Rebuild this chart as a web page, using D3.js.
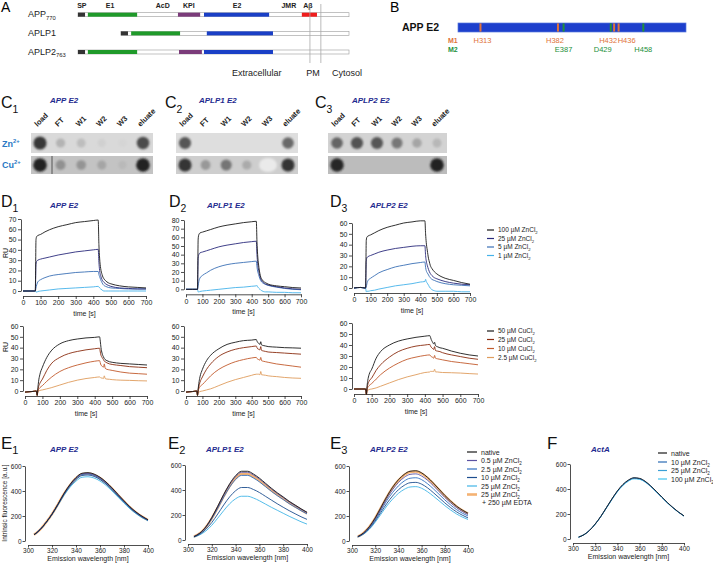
<!DOCTYPE html>
<html><head><meta charset="utf-8">
<script src="https://cdn.jsdelivr.net/npm/d3@7"></script>
<style>
body{margin:0;background:#fff;}
svg{font-family:"Liberation Sans",Arial,sans-serif;}
</style></head><body>
<svg id="c" width="713" height="564"></svg>
<script>
// ---------------- DATA ----------------
// Panel A
const aProteins = ["APP", "APLP1", "APLP2"];
const aSubs = ["770", "", "763"];
const aStart = [0, 122, 0];
const aEnd = 770;
const segAPP = [["SP",0,20],["E1",28,168],["KPI",284,347],["E2",358,543],["Ab",636,679]];
const segAPLP1 = [["SP",122,142],["E1",151,290],["E2",366,554]];
const segAPLP2 = [["SP",0,20],["E1",28,168],["KPI",287,352],["E2",358,554]];
const aDomainNames = ["SP","E1","AcD","KPI","E2","JMR","Aβ"];
const aDomainPos = [11, 91, 241, 315, 452, 599, 653];
const aMembrane = [659, 690];
const aRegionNames = ["Extracellular","PM","Cytosol"];
const aRegionPos = [508, 668, 722];

// Panel B
const bRange = [293, 496];
const bM1 = [313, 382, 432, 436];
const bM2 = [387, 429, 458];
const bM1Labels = ["H313","H382","H432","H436"];
const bM2Labels = ["E387","D429","H458"];

// Panel C (dot blot intensities, 0..1)
const cLanes = ["load","FT","W1","W2","W3","eluate"];
const cTitles = ["APP E2","APLP1 E2","APLP2 E2"];
const cZnAPP   = [0.85,0.2,0.15,0.05,0.02,0.75];
const cCuAPP   = [0.95,0.3,0.28,0.18,0.06,0.95];
const cZnAPLP1 = [0.7,0,0,0,0,0.6];
const cCuAPLP1 = [0.85,0.3,0.5,0.2,0,0.85];
const cZnAPLP2 = [0.6,0.7,0.68,0.5,0.25,0.15];
const cCuAPLP2 = [0.92,0,0,0,0,0.95];

// Panel D (SPR, RU over time)
const T = [0,40,66,70,74,78,85,100,125,150,200,250,300,350,400,428,432,436,442,450,455,460,470,485,500,550,600,650,700];
const dTimeTicks = [0,100,200,300,400,500,600,700];
const d1zn100 = [0,0,0,0,50,53,54,55,57.5,59.5,62.5,64.5,66.5,67.5,68.5,69,45,32,22,16,13.5,12,10,8,7,5,4,3.5,3];
const d1zn25  = [0,0,0,0,26,29,30,31,32,33,35,36.5,38,39,40,40.5,28,20,15,11,9.5,8.5,7,5.5,4.5,3,2.5,2,2];
const d1zn5   = [0,0,0,0,3,6,9,11,13,14.5,16,17,18,18.5,19,19,16,14,11,8,6.5,5.5,4.5,3.5,3,2.5,2,2,2];
const d1zn1   = [0,0,0,0,-1,-1,-0.5,0,0.5,1,2,2.5,3,3.5,4,4.5,4,3,2,1,0.3,0,0,0,0,0,0,0,0];
const d2zn100 = [0,0,0,0,58,63,65,66,67.5,69,72,74,75.5,77,78,78.5,55,40,28,18,14,12,9.5,7.5,6,4,3,2,1.5];
const d2zn25  = [0,0,0,0,36,40,42,43,44.5,46,49,51,52.5,54,55,55.5,40,30,22,15,12,10,8,6,5,3,1.5,0.5,0];
const d2zn5   = [0,0,0,0,4,9,13,16,19,22,26,28.5,30,31,32,32.5,26,21,17,12,10,8.5,7,5.5,4.5,2.5,1,0,-0.5];
const d2zn1   = [0,0,0,0,-3,-3,-2.5,-2,-1.5,-1,0,1,2,2.5,3.5,4,4.5,3,1.5,0,-1,-1.5,-2.5,-3,-3,-3.5,-3.5,-4,-4];
const d3zn100 = [0,0.5,0,0,44,47,48,49,51,53,56,58,60,61,62,62,50,42,35,27,24,21,18,15,13,9,7,5,3.5];
const d3zn25  = [0,0.5,0,0,25,28,29,30,31.5,33,35,36.5,37.5,38.5,39,39,30,25,21,17,15,13.5,11.5,9.5,8.5,6,4.5,3.5,3];
const d3zn5   = [0,0.5,0,0,1,4,7,9,11.5,14,17,19.5,21,22.5,23.5,24,19,16,14,12,10.5,9.5,8,7,6,4,3,2.5,2];
const d3zn1   = [0,0.5,0,0,-3.5,-3,-3,-2.5,-2,-1,0.5,2,3,4,5.5,6,8,6,4.5,2.5,1,0,-1.5,-2.5,-3,-3,-3,-3.5,-3.5];
const d1cu50 = [-1,-0.5,0,-4,3,9,15,22,31,37,43.5,46.5,48,49,49.5,50,46,40,35,31.5,30,29,28,27,26.5,25.5,25,24.5,24];
const d1cu25 = [-1,-0.5,0,-4,1,4,7,11,19,25,31,34.5,36.5,38,39,39.5,36,33,31,29,27.5,27,26,25,24.5,23.5,22.5,22,21.5];
const d1cu10 = [-1,-0.5,0,-4,0,1.5,3,5,9,12.5,18,21.5,24,26,27.5,28,26,24,23,22,25,21,20,19.5,19,17.5,16.5,16,15.5];
const d1cu2  = [-1,-0.5,0,-4,-0.5,0,0.5,1,2,3,5.5,8,10,11.5,12.5,13,12.5,12,12,11.5,14,11.5,11,10.8,10.5,10,9.8,9.5,9.3];
const d2cu50 = [-1,-0.5,0,-4,2,7,13,20,28,33,39,43,45,46.5,47,47.5,46,45,44,43,45.5,42.5,42,41.5,41,40.5,40,39.8,39.5];
const d2cu25 = [-1,-0.5,0,-4,1,4,8,13,20,25,32,36,38.5,40,41,41.5,40,39,38.5,38,41,37.5,37,36.5,36,35.5,35,34.5,34];
const d2cu10 = [-1,-0.5,0,-4,0,2,4,6,10,14,20,24,27,29,30.5,31,30,29.5,29,28.5,31,28,27.5,27,26.5,25,24,23,22];
const d2cu2  = [-1,-0.5,0,-4,-1,-1,-0.5,0,1,2,5,8,10.5,12.5,14.5,15.5,15.5,15.5,15.5,15,18,15,14.8,14.5,14,13.3,12.5,12,11.7];
const d3cu50 = [0,0,0,-5,3,8,13,18,28,34,40,43.5,45.5,47,48,48.5,47,45,43,41,42.5,39.5,38.5,37.5,37,34.5,32.5,31,30];
const d3cu25 = [0,0,0,-5,1,4,7,10,17,22,29,34,37,39,40,40.5,39,38,37,36,38.5,35,34.5,34,33,31,29.5,28,27];
const d3cu10 = [0,0,0,-5,0,1.5,3,5,9,13,19,23.5,27,29,30.5,31,30,29.5,29,28,30.5,28,27.5,27,26.5,25,24,23,22];
const d3cu2  = [0,0,0,-5,-1,-1,-0.5,0,1,2.5,5.5,8.5,11,13,15,15.5,16,16,16,16,18,15.5,15.5,15.2,15,14.8,14.5,14,13.6];
const dZnLegend = ["100 µM ZnCl","25 µM ZnCl","5 µM ZnCl","1 µM ZnCl"];
const dCuLegend = ["50 µM CuCl","25 µM CuCl","10 µM CuCl","2.5 µM CuCl"];

// Panel E / F (fluorescence)
const eWl = [305,310,315,320,325,330,335,340,345,350,355,360,365,370,375,380,385,390,395,400];
const eWlTicks = [300,320,340,360,380,400];
const eFluTicks = [0,200,400,600];
const e1Native = [50,90,148,215,295,380,452,508,542,547,536,510,472,425,373,322,273,232,198,170];
const e1Zn05   = [50,90,148,215,294,378,449,504,537,541,530,505,467,421,369,319,270,230,196,168];
const e1Zn2_5  = [50,90,148,214,293,376,446,499,532,536,525,500,463,417,366,316,268,228,195,167];
const e1Zn10   = [50,90,147,213,291,372,440,492,524,528,517,492,456,411,360,311,264,224,192,165];
const e1Zn25   = [50,89,146,211,287,365,430,479,510,514,504,480,445,400,351,303,257,219,187,161];
const e1Edta   = [50,90,148,215,294,377,447,502,535,539,528,503,465,419,367,317,269,229,195,168];
const e2Native = [27,55,105,180,270,365,450,515,550,550,528,495,455,415,378,345,310,280,250,222];
const e2Zn05   = [27,55,104,178,266,360,443,507,542,542,520,488,448,409,372,340,305,276,246,219];
const e2Zn2_5  = [27,53,100,170,254,343,423,484,517,517,496,465,428,390,355,324,291,263,235,209];
const e2Zn10   = [25,47,85,140,208,280,345,394,420,420,404,380,350,320,290,262,235,210,186,165];
const e2Zn25   = [23,42,72,118,175,235,290,330,350,350,336,314,288,262,238,214,190,168,146,127];
const e2Edta   = [27,54,102,173,259,350,432,494,528,528,507,475,437,398,363,331,298,269,240,213];
const e3Native = [35,65,115,185,270,355,430,490,533,558,562,545,510,465,415,365,320,280,248,222];
const e3Zn05   = [35,63,111,178,259,340,411,468,509,533,537,520,487,444,396,349,306,268,237,212];
const e3Zn2_5  = [34,61,106,169,246,323,388,441,480,502,506,491,459,419,374,329,288,252,223,200];
const e3Zn10   = [33,58,100,160,230,300,360,410,445,466,469,455,426,388,347,305,267,234,207,185];
const e3Zn25   = [32,55,94,150,215,280,335,381,413,432,435,422,395,360,322,283,248,217,192,172];
const e3Edta   = [35,64,114,183,267,351,426,485,528,552,556,540,505,460,411,361,317,277,246,220];
const fNative  = [15,35,70,120,180,250,320,385,437,472,490,485,462,425,382,336,292,252,216,185];
const fZn10    = [15,35,70,120,180,249,319,383,435,470,488,483,460,423,380,335,291,251,215,184];
const fZn25    = [15,35,70,119,179,248,317,381,432,467,485,480,458,421,379,334,290,250,215,184];
const fZn100   = [15,35,69,118,178,246,314,378,428,463,481,477,455,419,377,332,289,249,214,183];
const eLegend = ["native","0.5 µM ZnCl","2.5 µM ZnCl","10 µM ZnCl","25 µM ZnCl","25 µM ZnCl"];
const fLegend = ["native","10 µM ZnCl","25 µM ZnCl","100 µM ZnCl"];

// ---------------- DRAWING ----------------
const FONT = '"Liberation Sans", Arial, sans-serif';
const TITLE_COL = "#1f2b8f";
const svg = d3.select("#c");
svg.append("defs").html('<filter id="blur" x="-50%" y="-50%" width="200%" height="200%"><feGaussianBlur stdDeviation="0.8"/></filter>');

function rich(g, x, y, parts, size, attrs = {}) {
  const t = g.append("text").attr("x", x).attr("y", y).attr("font-size", size);
  for (const k in attrs) t.attr(k, attrs[k]);
  let shift = 0;
  parts.forEach(p => {
    if (typeof p === "string") {
      t.append("tspan").attr("dy", -shift).text(p); shift = 0;
    } else {
      const d = p.sub ? size * 0.3 : -size * 0.4;
      t.append("tspan").attr("dy", d - shift).attr("font-size", size * 0.65).text(p.t);
      shift = d;
    }
  });
  return t;
}
function panelLetter(x, y, L, sub, size) {
  const parts = sub ? [L, {t: sub, sub: true}] : [L];
  rich(svg, x, y, parts, size, {fill: "#111"});
}
function title(x, y, txt) {
  svg.append("text").attr("x", x).attr("y", y).attr("font-size", 8).attr("font-weight", "bold")
    .attr("font-style", "italic").attr("fill", TITLE_COL).text(txt);
}
function axes(g, x, y, xt, yt, yOff, xOff, fs, tl, tp) {
  const ax = x(xt[0]) - yOff;
  const ay = y(yt[0]) + xOff;
  const ya = g.append("g").attr("transform", `translate(${ax},0)`)
    .call(d3.axisLeft(y).tickValues(yt).tickSize(tl).tickSizeOuter(0).tickPadding(tp));
  const xa = g.append("g").attr("transform", `translate(0,${ay})`)
    .call(d3.axisBottom(x).tickValues(xt).tickSize(tl).tickSizeOuter(0).tickPadding(tp));
  [ya, xa].forEach(a => {
    a.attr("font-size", fs).attr("font-family", FONT);
    a.selectAll("path,line").attr("stroke", "#222").attr("stroke-width", 0.8);
    a.selectAll("text").attr("fill", "#222");
  });
  return ay;
}

// ---- Panel A ----
const gA = svg.append("g");
svg.append("text").attr("x", 1).attr("y", 12).attr("font-size", 14).text("A");
const xA = d3.scaleLinear().domain([0, aEnd]).range([78, 349]);
const yA = d3.scalePoint().domain(aProteins).range([12.7, 50]);
const segColors = {SP: "#333333", E1: "#1f9a2a", KPI: "#7b3b7a", E2: "#1a3fc6", Ab: "#f01c1c"};
const aSegs = [segAPP, segAPLP1, segAPLP2];
aProteins.forEach((p, i) => {
  const y = yA(p);
  gA.append("rect").attr("x", xA(aStart[i])).attr("y", y).attr("width", xA(aEnd) - xA(aStart[i])).attr("height", 4)
    .attr("fill", "#fff").attr("stroke", "#9a9a9a").attr("stroke-width", 0.6);
  aSegs[i].forEach(s => {
    gA.append("rect").attr("x", xA(s[1])).attr("y", y).attr("width", xA(s[2]) - xA(s[1])).attr("height", 4)
      .attr("fill", segColors[s[0]]);
  });
  rich(gA, 28, y + 4.5, aSubs[i] ? [p, {t: aSubs[i], sub: true}] : [p], 9, {fill: "#222"});
});
aDomainNames.forEach((n, i) => {
  gA.append("text").attr("x", xA(aDomainPos[i])).attr("y", 8).attr("font-size", 7).attr("font-weight", "bold")
    .attr("text-anchor", "middle").attr("fill", "#222").text(n);
});
aMembrane.forEach(m => {
  gA.append("line").attr("x1", xA(m)).attr("x2", xA(m)).attr("y1", 4).attr("y2", 63)
    .attr("stroke", "#aaa").attr("stroke-width", 0.8);
});
aRegionNames.forEach((n, i) => {
  gA.append("text").attr("x", xA(aRegionPos[i])).attr("y", 75.5).attr("font-size", 9)
    .attr("text-anchor", i === 2 ? "start" : "middle").attr("fill", "#222").text(n);
});

// ---- Panel B ----
svg.append("text").attr("x", 390).attr("y", 12).attr("font-size", 14).text("B");
const gB = svg.append("g");
const xB = d3.scaleLinear().domain(bRange).range([458, 686]);
gB.append("text").attr("x", 402).attr("y", 31).attr("font-size", 10.5).attr("font-weight", "bold").attr("fill", "#111").text("APP E2");
gB.append("rect").attr("x", xB(bRange[0])).attr("y", 23).attr("width", xB(bRange[1]) - xB(bRange[0])).attr("height", 9)
  .attr("fill", "#1d3fcc").attr("stroke", "#5a78dc").attr("stroke-width", 0.7);
const M1C = "#e0733a", M2C = "#23903a";
bM1.forEach(r => gB.append("rect").attr("x", xB(r) - 1).attr("y", 23.4).attr("width", 2).attr("height", 8.2).attr("fill", M1C));
bM2.forEach(r => gB.append("rect").attr("x", xB(r) - 1).attr("y", 23.4).attr("width", 2).attr("height", 8.2).attr("fill", M2C));
const bShift = {H313: 2, H382: -3, H432: -6, H436: 8, E387: 0, D429: -8, H458: 0};
gB.append("text").attr("x", 448).attr("y", 43).attr("font-size", 7).attr("font-weight", "bold").attr("fill", M1C).text("M1");
gB.append("text").attr("x", 448).attr("y", 52).attr("font-size", 7).attr("font-weight", "bold").attr("fill", M2C).text("M2");
bM1.forEach((r, i) => gB.append("text").attr("x", xB(r) + bShift[bM1Labels[i]]).attr("y", 43).attr("font-size", 7.5)
  .attr("text-anchor", "middle").attr("fill", M1C).text(bM1Labels[i]));
bM2.forEach((r, i) => gB.append("text").attr("x", xB(r) + bShift[bM2Labels[i]]).attr("y", 52).attr("font-size", 7.5)
  .attr("text-anchor", "middle").attr("fill", M2C).text(bM2Labels[i]));

// ---- Panel C ----
const cLetterX = [1, 165, 315];
const cTitleX = [50, 199, 352];
const boxes = [{x: 31, w: 122}, {x: 176, w: 122}, {x: 328, w: 119}];
const rowsY = [{y: 133, h: 20}, {y: 156, h: 18}];
const blotBg = [["#d9d9d9", "#c3c3c3"], ["#dedede", "#cecece"], ["#d3d3d3", "#bcbcbc"]];
const blotData = [[cZnAPP, cCuAPP], [cZnAPLP1, cCuAPLP1], [cZnAPLP2, cCuAPLP2]];
const gC = svg.append("g");
boxes.forEach((b, bi) => {
  panelLetter(cLetterX[bi], 108, "C", String(bi + 1), 16);
  title(cTitleX[bi], 103, cTitles[bi]);
  const xl = d3.scalePoint().domain(cLanes).range([b.x + 9, b.x + b.w - 10]);
  cLanes.forEach(l => {
    gC.append("text").attr("transform", `translate(${xl(l) - 2.5},127) rotate(-45)`)
      .attr("font-size", 7.5).attr("font-weight", "bold").attr("fill", "#222").text(l);
  });
  rowsY.forEach((r, ri) => {
    gC.append("rect").attr("x", b.x).attr("y", r.y).attr("width", b.w).attr("height", r.h).attr("fill", blotBg[bi][ri]);
    const vals = blotData[bi][ri];
    const col = d3.interpolateRgb(blotBg[bi][ri], "#1b1b1b");
    cLanes.forEach((l, li) => {
      const v = vals[li];
      if (v <= 0) return;
      gC.append("circle").attr("cx", xl(l)).attr("cy", r.y + r.h / 2).attr("r", 4 + 3 * v)
        .attr("fill", col(v)).attr("filter", "url(#blur)");
    });
  });
});
gC.append("line").attr("x1", 52).attr("x2", 52).attr("y1", 156).attr("y2", 174).attr("stroke", "#555").attr("stroke-width", 1);
gC.append("ellipse").attr("cx", 268).attr("cy", 165).attr("rx", 9).attr("ry", 7).attr("fill", "#eaeaea").attr("filter", "url(#blur)");
rich(gC, 2, 147, ["Zn", {t: "2+"}], 9, {fill: "#2a78c4", "font-weight": "bold"});
rich(gC, 2, 168, ["Cu", {t: "2+"}], 9, {fill: "#2a78c4", "font-weight": "bold"});

// ---- Panel D ----
const znColors = ["#1a1a1a", "#2a2a7c", "#3b70b6", "#45b2ea"];
const cuColors = ["#1a1a1a", "#8a2c10", "#c25a2c", "#df9c5c"];
const dLetterX = [1, 169, 330];
const dTitleX = [50, 207, 370];
const dTitles = ["APP E2", "APLP1 E2", "APLP2 E2"];
const dPlots = [
  {xr: [23, 146], yMax: 70, yr: [291, 219], data: [d1zn100, d1zn25, d1zn5, d1zn1], colors: znColors},
  {xr: [186, 301], yMax: 80, yr: [289.3, 220], data: [d2zn100, d2zn25, d2zn5, d2zn1], colors: znColors},
  {xr: [354, 470], yMax: 60, yr: [288, 223], data: [d3zn100, d3zn25, d3zn5, d3zn1], colors: znColors},
  {xr: [25, 147], yMax: 60, yr: [391, 326], data: [d1cu50, d1cu25, d1cu10, d1cu2], colors: cuColors},
  {xr: [186, 301], yMax: 60, yr: [391, 326], data: [d2cu50, d2cu25, d2cu10, d2cu2], colors: cuColors},
  {xr: [354, 478], yMax: 60, yr: [389, 323], data: [d3cu50, d3cu25, d3cu10, d3cu2], colors: cuColors},
];
dLetterX.forEach((x, i) => { panelLetter(x, 207, "D", String(i + 1), 16); title(dTitleX[i], 208, dTitles[i]); });
dPlots.forEach(p => {
  const g = svg.append("g");
  const x = d3.scaleLinear().domain([0, 700]).range(p.xr);
  const y = d3.scaleLinear().domain([0, p.yMax]).range(p.yr);
  const yt = d3.range(0, p.yMax + 1, 10);
  const ay = axes(g, x, y, dTimeTicks, yt, 2, 5, 7, 3, 1.5);
  g.append("text").attr("x", (p.xr[0] + p.xr[1]) / 2).attr("y", ay + 19.5).attr("font-size", 7)
    .attr("text-anchor", "middle").attr("fill", "#222").text("time [s]");
  const line = d3.line().x((d, i) => x(T[i])).y(d => y(d)).curve(d3.curveMonotoneX);
  for (let k = p.data.length - 1; k >= 0; k--) {
    g.append("path").attr("d", line(p.data[k])).attr("fill", "none").attr("stroke", p.colors[k]).attr("stroke-width", 0.9);
  }
});
svg.append("text").attr("transform", "translate(7.5,253) rotate(-90)").attr("font-size", 7).attr("text-anchor", "middle").text("RU");
svg.append("text").attr("transform", "translate(7.5,347) rotate(-90)").attr("font-size", 7).attr("text-anchor", "middle").text("RU");
function legend(x0, yc, labels, colors, fs, lw, lineLen) {
  labels.forEach((l, i) => {
    const y = yc[i];
    svg.append("line").attr("x1", x0).attr("x2", x0 + lineLen).attr("y1", y).attr("y2", y)
      .attr("stroke", colors[i]).attr("stroke-width", lw[i] || lw[0]);
    const parts = l === "native" ? [l] : [l, {t: "2", sub: true}];
    rich(svg, x0 + lineLen + 4, y + fs * 0.36, parts, fs, {fill: "#222"});
  });
}
legend(487, [230, 238.5, 247, 255.5], dZnLegend, znColors, 6.5, [1.2], 7);
legend(487, [331, 339.5, 348.5, 357.5], dCuLegend, cuColors, 6.5, [1.2], 7);

// ---- Panel E / F ----
const eColors = ["#1a1a1a", "#5b52a3", "#2f6fc2", "#1d4e8f", "#42b5e6", "#f4b273"];
const fColors = ["#1a1a1a", "#2a6cb4", "#3a9fd6", "#41c3ef"];
const ePlots = [
  {L: "E", sub: "1", lx: 1, title: "APP E2", tx: 50, xr: [28, 148], yr: [541, 466],
   data: [e1Native, e1Zn05, e1Zn2_5, e1Zn10, e1Zn25, e1Edta], colors: eColors},
  {L: "E", sub: "2", lx: 168, title: "APLP1 E2", tx: 206, xr: [188, 307], yr: [540, 465],
   data: [e2Native, e2Zn05, e2Zn2_5, e2Zn10, e2Zn25, e2Edta], colors: eColors},
  {L: "E", sub: "3", lx: 330, title: "APLP2 E2", tx: 370, xr: [352, 468], yr: [541, 466],
   data: [e3Native, e3Zn05, e3Zn2_5, e3Zn10, e3Zn25, e3Edta], colors: eColors},
  {L: "F", sub: "", lx: 547, title: "ActA", tx: 591, xr: [573, 684], yr: [539, 464],
   data: [fNative, fZn10, fZn25, fZn100], colors: fColors},
];
ePlots.forEach(p => {
  panelLetter(p.lx, 449, p.L, p.sub, 17);
  title(p.tx, 452, p.title);
  const g = svg.append("g");
  const x = d3.scaleLinear().domain([300, 400]).range(p.xr);
  const y = d3.scaleLinear().domain([0, 600]).range(p.yr);
  const ay = axes(g, x, y, eWlTicks, eFluTicks, 3, 4, 6.5, 2.5, 0.8);
  g.append("text").attr("x", (p.xr[0] + p.xr[1]) / 2).attr("y", ay + 16).attr("font-size", 7)
    .attr("text-anchor", "middle").attr("fill", "#222").text("Emission wavelength [nm]");
  const line = d3.line().x((d, i) => x(eWl[i])).y(d => y(d)).curve(d3.curveMonotoneX);
  const order = p.data.length === 6 ? [5, 4, 3, 2, 1, 0] : [3, 2, 1, 0];
  order.forEach(k => {
    g.append("path").attr("d", line(p.data[k])).attr("fill", "none").attr("stroke", p.colors[k])
      .attr("stroke-width", (p.data.length === 6 && k === 5) ? 2.4 : 0.9);
  });
});
svg.append("text").attr("transform", "translate(7,503) rotate(-90)").attr("font-size", 6.5)
  .attr("text-anchor", "middle").attr("fill", "#222").text("Intrinsic fluorescence [a.u.]");
legend(467, [452, 460.5, 469, 477.5, 486, 494.5], eLegend, eColors, 7, [1.2, 1.2, 1.2, 1.2, 1.2, 2.6], 10);
svg.append("text").attr("x", 482).attr("y", 505).attr("font-size", 7).attr("fill", "#222").text("+ 250 µM EDTA");
legend(658, [453, 462, 470.5, 479], fLegend, fColors, 7, [1.2], 9);
</script></body></html>
